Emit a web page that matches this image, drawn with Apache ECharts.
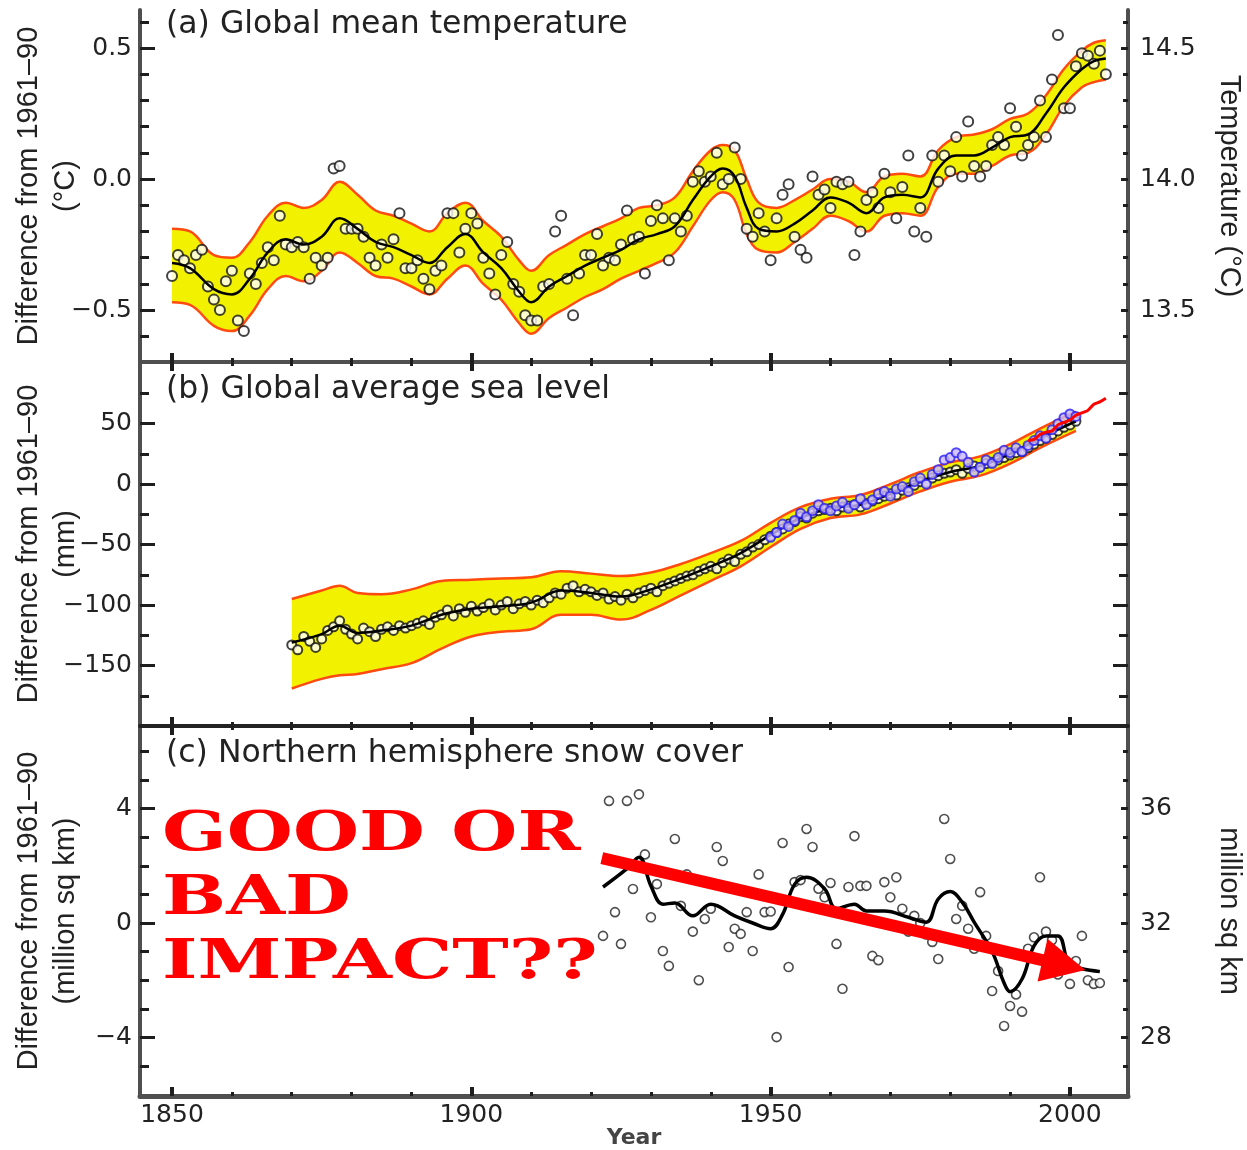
<!DOCTYPE html>
<html>
<head>
<meta charset="utf-8">
<script src="https://cdn.jsdelivr.net/npm/echarts@6/dist/echarts.min.js"></script>
<style>
  html, body { margin: 0; padding: 0; background: #fff; }
  #chart { width: 1247px; height: 1150px; }
</style>
</head>
<body>
<div id="chart"></div>
<script>
// ---------- shared x axis ----------
const X_MIN = 1844.65, X_MAX = 2009.7;
const yearMajor = [1850, 1900, 1950, 2000];
const yearMinor = [1860, 1870, 1880, 1890, 1910, 1920, 1930, 1940, 1960, 1970, 1980, 1990];

// ---------- (a) global mean temperature, anomaly 1850..2006 ----------
const tempStart = 1850;
const tempAnom = [
  -0.37, -0.29, -0.31, -0.34, -0.29, -0.27, -0.41, -0.46, -0.50, -0.39,
  -0.35, -0.54, -0.58, -0.36, -0.40, -0.32, -0.26, -0.31, -0.14, -0.25,
  -0.26, -0.24, -0.26, -0.38, -0.30, -0.33, -0.30, 0.04, 0.05, -0.19,
  -0.19, -0.19, -0.22, -0.30, -0.33, -0.25, -0.30, -0.23, -0.13, -0.34,
  -0.34, -0.31, -0.38, -0.42, -0.35, -0.33, -0.13, -0.13, -0.28, -0.19,
  -0.13, -0.17, -0.30, -0.36, -0.44, -0.29, -0.24, -0.40, -0.43, -0.52,
  -0.54, -0.54, -0.41, -0.40, -0.20, -0.14, -0.38, -0.52, -0.36, -0.29,
  -0.29, -0.21, -0.33, -0.30, -0.31, -0.25, -0.12, -0.23, -0.22, -0.36,
  -0.16, -0.10, -0.15, -0.31, -0.15, -0.20, -0.14, -0.01, 0.03, -0.01,
  0.01, 0.10, -0.02, 0.00, 0.12, 0.00, -0.19, -0.22, -0.13, -0.20,
  -0.31, -0.15, -0.06, -0.02, -0.22, -0.27, -0.30, 0.01, -0.06, -0.04,
  -0.11, -0.01, -0.02, -0.01, -0.29, -0.20, -0.08, -0.05, -0.11, 0.02,
  -0.05, -0.15, -0.03, 0.09, -0.20, -0.11, -0.22, 0.09, -0.01, 0.09,
  0.03, 0.16, 0.01, 0.22, 0.05, 0.01, 0.05, 0.13, 0.16, 0.13,
  0.27, 0.20, 0.09, 0.13, 0.16, 0.30, 0.16, 0.38, 0.55, 0.27,
  0.27, 0.43, 0.48, 0.47, 0.44, 0.49, 0.40
];
const tempSmoothYears = [
  1850, 1853, 1857, 1860, 1863, 1866, 1869, 1872, 1875, 1878,
  1881, 1884, 1887, 1890, 1893, 1896, 1899, 1902, 1905, 1908,
  1910, 1913, 1916, 1919, 1922, 1925, 1928, 1931, 1934, 1937,
  1940, 1942, 1944, 1946, 1948, 1951, 1954, 1957, 1960, 1963,
  1966, 1969, 1972, 1975, 1978, 1981, 1984, 1987, 1990, 1993,
  1996, 1999, 2002, 2004, 2006
];
const tempSmooth = [
  -0.32, -0.34, -0.42, -0.44, -0.38, -0.28, -0.23, -0.25, -0.22, -0.15,
  -0.19, -0.24, -0.26, -0.29, -0.32, -0.26, -0.21, -0.28, -0.34, -0.43,
  -0.47, -0.41, -0.37, -0.33, -0.30, -0.27, -0.23, -0.21, -0.18, -0.08,
  0.01, 0.04, 0.01, -0.11, -0.19, -0.20, -0.17, -0.12, -0.07, -0.09,
  -0.13, -0.07, -0.06, -0.07, 0.04, 0.09, 0.09, 0.12, 0.16, 0.17,
  0.25, 0.35, 0.42, 0.45, 0.46
];
const tempHigh = [
  -0.19, -0.20, -0.29, -0.30, -0.24, -0.14, -0.09, -0.11, -0.08, -0.01,
  -0.06, -0.12, -0.14, -0.17, -0.20, -0.13, -0.09, -0.16, -0.22, -0.31,
  -0.35, -0.29, -0.25, -0.21, -0.18, -0.15, -0.11, -0.10, -0.07, 0.03,
  0.11, 0.13, 0.11, 0.00, -0.09, -0.11, -0.08, -0.04, 0.00, -0.01,
  -0.05, 0.01, 0.02, 0.01, 0.11, 0.16, 0.17, 0.19, 0.23, 0.25,
  0.32, 0.42, 0.49, 0.52, 0.53
];
const tempLow = [
  -0.47, -0.48, -0.56, -0.58, -0.52, -0.42, -0.37, -0.39, -0.35, -0.28,
  -0.32, -0.37, -0.38, -0.41, -0.44, -0.38, -0.33, -0.40, -0.46, -0.55,
  -0.59, -0.53, -0.49, -0.45, -0.42, -0.38, -0.35, -0.32, -0.28, -0.18,
  -0.08, -0.05, -0.08, -0.21, -0.27, -0.28, -0.24, -0.19, -0.14, -0.16,
  -0.20, -0.14, -0.13, -0.14, -0.03, 0.02, 0.02, 0.05, 0.09, 0.10,
  0.17, 0.28, 0.35, 0.37, 0.38
];

// ---------- (b) global average sea level, 1870..2001 (mm) ----------
const seaStart = 1870;
const seaAnnual = [
  -133, -137, -126, -130, -135, -128, -121, -118, -113, -120,
  -124, -128, -119, -122, -126, -120, -118, -121, -117, -119,
  -117, -115, -113, -116, -110, -108, -104, -109, -103, -106,
  -101, -105, -102, -99, -104, -100, -97, -103, -99, -97,
  -100, -96, -98, -94, -90, -91, -86, -84, -89, -87,
  -89, -92, -90, -95, -93, -96, -91, -94, -90, -88,
  -86, -89, -84, -82, -80, -78, -76, -75, -72, -70,
  -68, -70, -65, -62, -64, -58, -56, -52, -50, -46,
  -43, -40, -37, -33, -31, -27, -28, -24, -22, -21,
  -20, -22, -19, -18, -17, -19, -16, -14, -12, -10,
  -8, -9, -5, -3, -1, 2, 1, 5, 7, 9,
  10, 12, 9, 13, 15, 14, 17, 18, 20, 22,
  24, 26, 27, 30, 33, 36, 38, 41, 44, 47,
  49, 52
];
const seaSmoothYears = [
  1870, 1875, 1878, 1881, 1885, 1890, 1895, 1900, 1905, 1910,
  1915, 1920, 1925, 1930, 1935, 1940, 1945, 1950, 1955, 1960,
  1965, 1970, 1975, 1980, 1985, 1990, 1995, 2001
];
const seaSmooth = [
  -131, -124, -117, -123, -121, -117, -108, -103, -101, -98,
  -88, -90, -93, -87, -78, -68, -57, -42, -28, -20,
  -17, -8, 2, 10, 15, 25, 38, 52
];
const seaHigh = [
  -95, -88, -84, -90, -91, -87, -80, -79, -78, -77,
  -72, -74, -76, -73, -66, -57, -47, -32, -19, -12,
  -9, 0, 10, 18, 23, 33, 46, 60
];
const seaLow = [
  -169, -161, -158, -157, -153, -148, -136, -126, -122, -120,
  -108, -108, -112, -104, -92, -80, -68, -52, -37, -28,
  -25, -16, -6, 2, 7, 17, 30, 44
];
// tide gauge series, 1950..2001
const gaugeStart = 1950;
const gaugeAnnual = [
  -44, -40, -33, -35, -30, -24, -27, -22, -17, -20,
  -22, -18, -15, -20, -17, -12, -17, -13, -8, -6,
  -10, -4, -2, -6, 2, 5, 0, 8, 12, 20,
  22, 26, 23, 18, 10, 14, 20, 17, 22, 28,
  26, 30, 27, 32, 36, 40, 38, 45, 50, 55,
  58, 56
];
// satellite altimetry, 1993..2006
const satStart = 1993;
const satAnnual = [36, 37, 41, 43, 44, 49, 51, 53, 57, 59, 61, 66, 68, 71];

// ---------- (c) northern hemisphere snow cover, 1922..2005 ----------
const snowStart = 1922;
const snowAnnual = [
  -0.45, 4.27, 0.38, -0.73, 4.27, 1.19, 4.5, 2.4,
  0.2, 1.36, -0.98, -1.5, 2.94, 0.6, 1.7, -0.3, -2.0, 0.14,
  0.5, 2.66, 2.17, -0.84, -0.2, -0.38, 0.38, -0.98, 1.7, 0.38,
  0.4, -3.99, 2.8, -1.54, 1.43, 1.5, 3.29, 2.66, 1.2, 0.9,
  1.4, -0.73, -2.3, 1.26, 3.04, 1.3, 1.3, -1.15, -1.3, 1.43,
  0.9, 1.6, 0.5, -0.3, 0.25, 0.0, -0.4, -0.66, -1.26, 3.64,
  2.24, 0.14, 0.6, -0.2, -0.9, 1.08, -0.45, -2.38, -1.68, -3.6,
  -2.9, -2.5, -3.1, -0.9, -0.5, 1.6, -0.3, -0.6, -1.8, -1.6,
  -2.13, -1.33, -0.45, -2.0, -2.13, -2.1
];
const snowSmoothYears = [
  1922, 1926, 1928, 1930, 1932, 1934, 1937, 1940, 1944, 1947,
  1950, 1952, 1954, 1956, 1959, 1961, 1964, 1966, 1969, 1973,
  1976, 1978, 1980, 1982, 1984, 1987, 1989, 1990, 1992, 1994,
  1996, 1998, 2000, 2002, 2005
];
const snowSmooth = [
  1.26, 1.9, 2.3, 1.3, 0.66, 0.7, 0.25, 0.66, 0.25, 0.0,
  -0.2, 0.3, 1.35, 1.6, 1.2, 0.5, 0.66, 0.42, 0.42, 0.2,
  0.03, 0.84, 1.1, 0.73, 0.03, -1.0, -2.1, -2.4, -1.96, -0.8,
  -0.45, -0.45, -1.5, -1.6, -1.7
];

// annotation
const noteLines = ['GOOD OR', 'BAD', 'IMPACT??'];
const arrowFrom = [1921.8, 2.27];
const arrowTo = [1999.0, -1.47];

// ---------- helpers ----------
const AXIS_COLOR = '#4f4f4f';
const TICK_COLOR = '#1e1e1e';
const LABEL_FONT = 'DejaVu Sans';
const NAME_FONT = 'Liberation Sans';

function pairs(start, vals) {
  return vals.map((v, i) => [start + i, v]);
}
function zip(xs, ys) {
  return xs.map((x, i) => [x, ys[i]]);
}
function minus(v) {
  return String(v).replace('-', '\u2212');
}

function xAxes(grid, pos, withLabels) {
  const base = { type: 'value', gridIndex: grid, position: pos, min: X_MIN, max: X_MAX, z: 10, splitLine: { show: false } };
  const thick = grid === 2 && pos === 'bottom';
  const major = Object.assign({}, base, {
    axisLine: { show: true, onZero: false, lineStyle: { color: grid === 2 && pos === 'top' ? '#222' : AXIS_COLOR, width: thick ? 5 : 4 } },
    axisTick: { show: true, inside: true, customValues: yearMajor, length: 9, lineStyle: { color: TICK_COLOR, width: 4 } },
    axisLabel: withLabels
      ? { show: true, customValues: yearMajor, margin: 7, fontSize: 25, fontFamily: LABEL_FONT, color: '#222', formatter: v => String(v) }
      : { show: false }
  });
  if (withLabels) {
    major.name = 'Year';
    major.nameLocation = 'middle';
    major.nameGap = 31;
    major.nameMoveOverlap = false;
    major.nameTextStyle = { fontFamily: LABEL_FONT, fontWeight: 'bold', fontSize: 22, color: '#444' };
  }
  const minor = Object.assign({}, base, {
    axisLine: { show: false, onZero: false },
    axisTick: { show: true, inside: true, customValues: yearMinor, length: 4, lineStyle: { color: TICK_COLOR, width: 3 } },
    axisLabel: { show: false }
  });
  return [major, minor];
}

function yAxes(grid, pos, o) {
  const base = { type: 'value', gridIndex: grid, position: pos, min: o.min, max: o.max, z: 10, splitLine: { show: false } };
  const major = Object.assign({}, base, {
    axisLine: { show: true, onZero: false, lineStyle: { color: AXIS_COLOR, width: 4 } },
    axisTick: { show: true, inside: true, customValues: o.major, length: o.majorLen, lineStyle: { color: TICK_COLOR, width: 3 } },
    axisLabel: o.labels
      ? { show: true, customValues: o.major, margin: pos === 'left' ? 8 : 12, fontSize: 25, fontFamily: LABEL_FONT, color: '#222', formatter: o.fmt }
      : { show: false }
  });
  if (o.name) {
    major.name = o.name;
    major.nameLocation = 'middle';
    major.nameGap = o.nameGap;
    major.nameMoveOverlap = false;
    major.nameRotate = pos === 'left' ? 90 : -90;
    major.nameTextStyle = { fontFamily: NAME_FONT, fontSize: 29, color: '#222', lineHeight: 37 };
  }
  const minor = Object.assign({}, base, {
    axisLine: { show: false, onZero: false },
    axisTick: { show: true, inside: true, customValues: o.minor, length: o.minorLen, lineStyle: { color: TICK_COLOR, width: 3 } },
    axisLabel: { show: false }
  });
  return [major, minor];
}

const fmt1 = v => minus(v.toFixed(1));
const fmt0 = v => minus(Math.round(v));

// x axes: 0-1 a bottom, 2-3 b bottom, 4-5 b top, 6-7 c bottom, 8-9 c top
const xAxisList = [].concat(
  xAxes(0, 'bottom', false),
  xAxes(1, 'bottom', false),
  xAxes(1, 'top', false),
  xAxes(2, 'bottom', true),
  xAxes(2, 'top', false)
);

// y axes: 0-3 panel a, 4-7 panel b, 8-11 panel c (left major, left minor, right major, right minor)
const yAxisList = [].concat(
  yAxes(0, 'left', { min: -0.698, max: 0.645, major: [-0.5, 0, 0.5], minor: [-0.6, -0.4, -0.3, -0.2, -0.1, 0.1, 0.2, 0.3, 0.4, 0.6],
    majorLen: 15, minorLen: 9, labels: true, fmt: fmt1, name: 'Difference from 1961\u201390\n(\u00b0C)', nameGap: 56 }),
  yAxes(0, 'right', { min: 13.302, max: 14.645, major: [13.5, 14.0, 14.5], minor: [13.4, 13.6, 13.7, 13.8, 13.9, 14.1, 14.2, 14.3, 14.4, 14.6],
    majorLen: 7, minorLen: 5, labels: true, fmt: fmt1, name: 'Temperature (\u00b0C)', nameGap: 82 }),
  yAxes(1, 'left', { min: -200, max: 101, major: [-150, -100, -50, 0, 50], minor: [-175, -125, -75, -25, 25, 75],
    majorLen: 15, minorLen: 9, labels: true, fmt: fmt0, name: 'Difference from 1961\u201390\n(mm)', nameGap: 56 }),
  yAxes(1, 'right', { min: -200, max: 101, major: [-150, -100, -50, 0, 50], minor: [-175, -125, -75, -25, 25, 75],
    majorLen: 15, minorLen: 9, labels: false }),
  yAxes(2, 'left', { min: -6.05, max: 6.89, major: [-4, 0, 4], minor: [-5, -3, -2, -1, 1, 2, 3, 5, 6],
    majorLen: 15, minorLen: 9, labels: true, fmt: fmt0, name: 'Difference from 1961\u201390\n(million sq km)', nameGap: 56 }),
  yAxes(2, 'right', { min: 25.95, max: 38.89, major: [28, 32, 36], minor: [27, 29, 30, 31, 33, 34, 35, 37, 38],
    majorLen: 7, minorLen: 5, labels: true, fmt: fmt0, name: 'million sq km', nameGap: 82 })
);

const YELLOW = '#f2f200';
const EDGE = '#ff4a10';

// uncertainty band: yellow fill down from the high edge, then white fill down from the low edge
// (the white fill is drawn twice with a 1px shadow to each side to hide the anti-aliased end columns)
function band(xi, yi, years, low, high) {
  const white = dx => ({ type: 'line', xAxisIndex: xi, yAxisIndex: yi, smooth: 0.4, symbol: 'none',
    lineStyle: { width: 0, opacity: 0 },
    areaStyle: { color: '#ffffff', opacity: 1, origin: 'start', shadowColor: '#ffffff', shadowBlur: 0, shadowOffsetX: dx },
    data: zip(years, low), z: 1 });
  return [
    { type: 'line', xAxisIndex: xi, yAxisIndex: yi, smooth: 0.4, symbol: 'none',
      lineStyle: { width: 0, opacity: 0 }, areaStyle: { color: YELLOW, opacity: 1, origin: 'start' },
      data: zip(years, high), z: 1 },
    white(1.5),
    white(-1.5),
    { type: 'line', xAxisIndex: xi, yAxisIndex: yi, smooth: 0.4, symbol: 'none',
      lineStyle: { width: 2.5, color: EDGE }, data: zip(years, low), z: 2 },
    { type: 'line', xAxisIndex: xi, yAxisIndex: yi, smooth: 0.4, symbol: 'none',
      lineStyle: { width: 2.5, color: EDGE }, data: zip(years, high), z: 2 }
  ];
}

const seriesList = [].concat(
  band(0, 0, tempSmoothYears, tempLow, tempHigh),
  [
    { type: 'scatter', xAxisIndex: 0, yAxisIndex: 0, symbol: 'circle', symbolSize: 10,
      itemStyle: { color: '#fff', borderColor: '#111', borderWidth: 2 }, data: pairs(tempStart, tempAnom), z: 3 },
    { type: 'line', xAxisIndex: 0, yAxisIndex: 0, smooth: 0.4, symbol: 'none',
      lineStyle: { width: 2.5, color: '#000' }, data: zip(tempSmoothYears, tempSmooth), z: 4 }
  ],
  band(2, 4, seaSmoothYears, seaLow, seaHigh),
  [
    { type: 'scatter', xAxisIndex: 2, yAxisIndex: 4, symbol: 'circle', symbolSize: 9,
      itemStyle: { color: '#fff', borderColor: '#111', borderWidth: 2 }, data: pairs(seaStart, seaAnnual), z: 3 },
    { type: 'line', xAxisIndex: 2, yAxisIndex: 4, smooth: 0.4, symbol: 'none',
      lineStyle: { width: 2.5, color: '#000' }, data: zip(seaSmoothYears, seaSmooth), z: 4 },
    { type: 'scatter', xAxisIndex: 2, yAxisIndex: 4, symbol: 'circle', symbolSize: 9,
      itemStyle: { color: '#c9b8ff', borderColor: '#2a20f0', borderWidth: 2 }, data: pairs(gaugeStart, gaugeAnnual), z: 5 },
    { type: 'line', xAxisIndex: 2, yAxisIndex: 4, smooth: 0.3, symbol: 'none',
      lineStyle: { width: 3, color: '#ff0000' }, data: pairs(satStart, satAnnual), z: 6 }
  ],
  [
    { type: 'scatter', xAxisIndex: 6, yAxisIndex: 8, symbol: 'circle', symbolSize: 9,
      itemStyle: { color: '#fff', borderColor: '#222', borderWidth: 1.6 }, data: pairs(snowStart, snowAnnual), z: 3 },
    { type: 'line', xAxisIndex: 6, yAxisIndex: 8, smooth: 0.4, symbol: 'none',
      lineStyle: { width: 3.5, color: '#000' }, data: zip(snowSmoothYears, snowSmooth), z: 4 },
    { type: 'line', xAxisIndex: 6, yAxisIndex: 8, data: [], z: 11,
      markLine: {
        silent: true, animation: false, symbol: ['none', 'triangle'], symbolSize: 44,
        lineStyle: { color: '#ff0000', width: 12, type: 'solid', opacity: 1 },
        itemStyle: { color: '#ff0000' },
        label: { show: false },
        data: [[{ coord: arrowFrom }, { coord: arrowTo }]]
      } }
  ]
);

const titleStyle = { fontFamily: LABEL_FONT, fontSize: 31.5, fontWeight: 'normal', color: '#222' };

const option = {
  animation: false,
  backgroundColor: '#fff',
  textStyle: { fontFamily: LABEL_FONT },
  title: [
    { text: '(a) Global mean temperature', left: 166, top: 9, padding: 0, textStyle: titleStyle },
    { text: '(b) Global average sea level', left: 166, top: 374, padding: 0, textStyle: titleStyle },
    { text: '(c) Northern hemisphere snow cover', left: 166, top: 738, padding: 0, textStyle: titleStyle }
  ],
  grid: [
    { left: 140, right: 119, top: 10, height: 352, containLabel: false, outerBoundsMode: 'none' },
    { left: 140, right: 119, top: 362, height: 364, containLabel: false, outerBoundsMode: 'none' },
    { left: 140, right: 119, top: 726, height: 370, containLabel: false, outerBoundsMode: 'none' }
  ],
  xAxis: xAxisList,
  yAxis: yAxisList,
  series: seriesList,
  graphic: noteLines.map((t, i) => ({
    type: 'text', x: 162, y: 836 + i * 64, scaleX: 1.38, z: 100,
    style: { text: t, fontSize: 55, fontFamily: 'DejaVu Serif', fontWeight: 'bold', fill: '#ff0000', verticalAlign: 'middle' }
  }))
};

const chart = echarts.init(document.getElementById('chart'));
chart.setOption(option);
</script>
</body>
</html>
